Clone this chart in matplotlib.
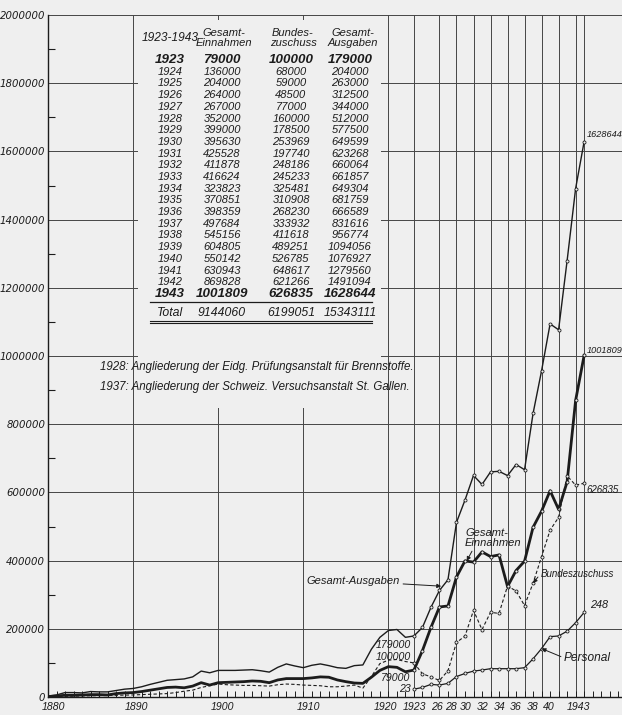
import matplotlib
matplotlib.use('Agg')
import matplotlib.pyplot as plt
from matplotlib.patches import Rectangle
import matplotlib.transforms as mtransforms

plt.rcParams['font.family'] = ['DejaVu Sans']
plt.rcParams['font.style'] = 'italic'
SANS = ['Liberation Sans', 'DejaVu Sans']
NARROW = ['Liberation Sans Narrow', 'Liberation Sans', 'DejaVu Sans']

# ---------------- data ----------------
years_early = list(range(1880, 1923))
ausgaben_early = [3000, 6000, 13000, 13000, 12000, 16000, 15000, 15000, 19000, 23000,
                  25000, 30000, 37000, 43000, 49000, 51000, 53000, 59000, 76000, 71000,
                  78000, 78000, 78000, 79000, 80000, 77000, 73000, 87000, 97000, 91000,
                  86000, 93000, 97000, 92000, 86000, 84000, 92000, 94000, 140000, 175000,
                  195000, 198000, 175000]
einnahmen_early = [1000, 3000, 5000, 5000, 6000, 7000, 7000, 6000, 10000, 12000,
                   13000, 16000, 20000, 24000, 28000, 29000, 27000, 32000, 42000, 35000,
                   42000, 43000, 44000, 45000, 47000, 46000, 42000, 50000, 54000, 54000,
                   54000, 56000, 59000, 58000, 50000, 45000, 41000, 40000, 58000, 78000,
                   89000, 87000, 74000]
bundes_early = [1000, 1500, 2000, 2500, 3000, 3500, 4000, 4500, 5000, 5500,
                6000, 7000, 8000, 9000, 10000, 13000, 17000, 20000, 28000, 33000,
                38000, 36000, 35000, 34000, 34000, 33000, 32000, 36000, 38000, 37000,
                35000, 34000, 33000, 30000, 30000, 32000, 35000, 26000, 60000, 98000,
                108000, 110000, 104000]

years_table = list(range(1923, 1944))
einnahmen = [79000, 136000, 204000, 264000, 267000, 352000, 399000, 395630, 425528, 411878,
             416624, 323823, 370851, 398359, 497684, 545156, 604805, 550142, 630943, 869828,
             1001809]
bundeszuschuss = [100000, 68000, 59000, 48500, 77000, 160000, 178500, 253969, 197740, 248186,
                  245233, 325481, 310908, 268230, 333932, 411618, 489251, 526785, 648617, 621266,
                  626835]
ausgaben = [179000, 204000, 263000, 312500, 344000, 512000, 577500, 649599, 623268, 660064,
            661857, 649304, 681759, 666589, 831616, 956774, 1094056, 1076927, 1279560, 1491094,
            1628644]
personal = [23, 28, 37, 35, 40, 60, 69, 76, 79, 83, 83, 83, 83, 86, 112, 142, 177, 179, 193, 218, 248]
personal_scale = 1000
totals = [9144060, 6199051, 15343111]

x_ticks = [1880, 1890, 1900, 1910, 1920, 1923, 1926, 1928, 1930, 1932, 1934, 1936, 1938, 1940, 1943]
x_labels = ['1880', '1890', '1900', '1910', '1920', '1923', '26', '28', '30', '32', '34', '36', '38', '40', '1943']
x_label_nudge = [5, 3, 4, 5, -3, 1, -3, -6, -8, -8, -8, -9, -9, -10, -6]
v_grid_years = [1890, 1900, 1910, 1920, 1923, 1926, 1928, 1930, 1932, 1934, 1936, 1938, 1940, 1942, 1943]
y_ticks = list(range(0, 2000001, 200000))

notes = ['1928: Angliederung der Eidg. Prüfungsanstalt für Brennstoffe.',
         '1937: Angliederung der Schweiz. Versuchsanstalt St. Gallen.']

# ---------------- layout ----------------
W, H = 622, 715
BG = '#efefef'
INK = '#1c1c1c'
GRID = '#454545'

def fx(px):
    return px / W

def fy(py):
    return 1 - py / H

fig = plt.figure(figsize=(W / 100, H / 100), dpi=100, facecolor=BG)
ax = fig.add_axes([fx(48), 1 - 697 / H, (622 - 48) / W, (697 - 15) / H])
ax.set_facecolor(BG)
ax.set_xlim(1880, 1880 + (622 - 48) / 8.51)
ax.set_ylim(0, 2000000)

for s in ['top', 'right']:
    ax.spines[s].set_visible(False)
for s in ['left', 'bottom']:
    ax.spines[s].set_linewidth(1.0)
    ax.spines[s].set_color(INK)

# grid
for yv in y_ticks[1:]:
    ax.axhline(yv, color=GRID, lw=0.7, zorder=1)
for xv in v_grid_years:
    ax.axvline(xv, color=GRID, lw=0.7, zorder=1)

# ticks
ax.set_yticks(y_ticks)
ax.set_yticklabels([str(v) for v in y_ticks], fontsize=7.3, color=INK)
ax.set_yticks(list(range(100000, 2000000, 200000)), minor=True)
ax.tick_params(axis='y', which='major', length=0, pad=2)
ax.tick_params(axis='y', which='minor', direction='in', length=5, width=0.8, color=INK)
ax.set_xticks([])
ax.set_xticks(list(range(1881, 1948)), minor=True)
ax.tick_params(axis='x', which='minor', direction='in', length=4, width=0.7, color=INK)

for xv, lab, dx in zip(x_ticks, x_labels, x_label_nudge):
    tr = ax.get_xaxis_transform() + mtransforms.ScaledTranslation(dx / 100, 0, fig.dpi_scale_trans)
    ax.text(xv, -0.008, lab, transform=tr, ha='center', va='top', fontsize=7.6,
            family=NARROW, color=INK)

# paper box behind table (hides grid)
ax.add_patch(Rectangle((fx(138), fy(408)), fx(381) - fx(138), fy(20) - fy(408),
                       transform=fig.transFigure, facecolor=BG, edgecolor='none', zorder=1.5))

# ---------------- series ----------------
ax.plot(years_early + [years_table[0]], ausgaben_early + [ausgaben[0]], color=INK, lw=1.0, zorder=3)
ax.plot(years_early + [years_table[0]], einnahmen_early + [einnahmen[0]], color=INK, lw=2.0, zorder=3)
ax.plot(years_early + [years_table[0]], bundes_early + [bundeszuschuss[0]], color=INK, lw=0.8,
        ls=(0, (3, 2)), zorder=3)

mk = dict(marker='o', ms=2.2, mfc=BG, mec=INK, mew=0.6)
ax.plot(years_table, ausgaben, color=INK, lw=1.0, zorder=3, **mk)
ax.plot(years_table, einnahmen, color=INK, lw=2.0, zorder=3, **mk)
ax.plot(years_table, bundeszuschuss, color=INK, lw=0.8, ls=(0, (3, 2)), zorder=3, **mk)
ax.plot(years_table, [p * personal_scale for p in personal], color=INK, lw=0.9, zorder=3, **mk)

# ---------------- annotations ----------------
small = dict(fontsize=6.6, color=INK, family=SANS)
ax.annotate(str(ausgaben[-1]), (years_table[-1], ausgaben[-1]), xytext=(2, 2),
            textcoords='offset points', ha='left', va='bottom', **small)
ax.annotate(str(einnahmen[-1]), (years_table[-1], einnahmen[-1]), xytext=(2, 0),
            textcoords='offset points', ha='left', va='bottom', **small)
ax.annotate(str(bundeszuschuss[-1]), (years_table[-1], bundeszuschuss[-1]), xytext=(2, -5),
            textcoords='offset points', ha='left', va='center', fontsize=7, color=INK, family=SANS)
ax.annotate(str(personal[-1]), (years_table[-1], personal[-1] * personal_scale), xytext=(4, 2),
            textcoords='offset points', ha='left', va='bottom', fontsize=7.8, color=INK, family=SANS)

lab_kw = dict(ha='right', va='center', fontsize=7.6, color=INK, family=NARROW)
ax.text(1922.6, 152000, str(ausgaben[0]), **lab_kw)
ax.text(1922.6, 117000, str(bundeszuschuss[0]), **lab_kw)
ax.text(1922.6, 56000, str(einnahmen[0]), **lab_kw)
ax.text(1922.6, 24000, str(personal[0]), **lab_kw)

ann = dict(fontsize=8.0, color=INK, family=SANS)
arw = dict(arrowstyle='-|>', color=INK, lw=0.7, mutation_scale=6, shrinkA=0, shrinkB=0)
ax.annotate('Gesamt-Ausgaben', xy=(1926.2, 325000), xytext=(1921.4, 340000),
            ha='right', va='center', arrowprops=arw, **ann)
ax.annotate('Gesamt-\nEinnahmen', xy=(1929.2, 399000), xytext=(1929.0, 465000),
            ha='left', va='center', linespacing=1.0,
            arrowprops=dict(arw, relpos=(0.15, 0.0)), **ann)
ax.annotate('Bundeszuschuss', xy=(1937.0, 333932), xytext=(1937.9, 362000),
            ha='left', va='center', fontsize=7.0, color=INK, family=SANS,
            arrowprops=dict(arw, relpos=(0.0, 0.5)))
ax.annotate('Personal', xy=(1938.0, 142000), xytext=(1940.6, 115000),
            ha='left', va='center', fontsize=8.6, color=INK, family=SANS,
            arrowprops=dict(arw, relpos=(0.0, 0.5)))

# ---------------- table ----------------
col_x = [170, 222, 291, 350]
fig.text(fx(170), fy(38), '1923-1943', ha='center', va='center', fontsize=8.6, color=INK, family=NARROW)
for cx, head in zip([224, 293, 353], ['Gesamt-\nEinnahmen', 'Bundes-\nzuschuss', 'Gesamt-\nAusgaben']):
    fig.text(fx(cx), fy(38), head, ha='center', va='center', fontsize=8.0, color=INK,
             linespacing=1.0, family=NARROW)

row0, row_step = 60, 11.7
for i, yr in enumerate(years_table):
    yy = row0 + i * row_step
    big = yr in (1923, 1943)
    fs = 9.6 if big else 8.0
    fw = 'bold' if big else 'normal'
    vals = [str(yr), str(einnahmen[i]), str(bundeszuschuss[i]), str(ausgaben[i])]
    for cx, v in zip(col_x, vals):
        fig.text(fx(cx), fy(yy), v, ha='center', va='center', fontsize=fs, fontweight=fw,
                 color=INK, family=NARROW)

y_last = row0 + (len(years_table) - 1) * row_step
line_y = y_last + 8
fig.add_artist(plt.Line2D([fx(150), fx(372)], [fy(line_y), fy(line_y)], color=INK, lw=0.9))
tot_y = line_y + 11
for cx, v in zip(col_x, ['Total'] + [str(t) for t in totals]):
    fig.text(fx(cx), fy(tot_y), v, ha='center', va='center', fontsize=8.8, color=INK, family=NARROW)
for dy in (8, 10):
    fig.add_artist(plt.Line2D([fx(150), fx(372)], [fy(tot_y + dy), fy(tot_y + dy)], color=INK, lw=0.8))

fig.text(fx(100), fy(367), notes[0], ha='left', va='center', fontsize=8.3, color=INK, family=SANS)
fig.text(fx(100), fy(387), notes[1], ha='left', va='center', fontsize=8.3, color=INK, family=SANS)

fig.savefig('out.png', dpi=100, facecolor=BG)
